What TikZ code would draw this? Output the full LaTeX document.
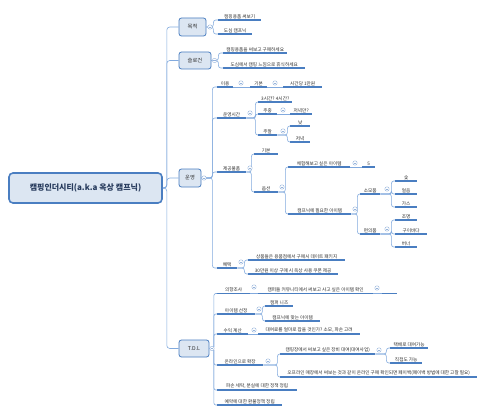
\documentclass[tikz,border=0pt]{standalone}
\usepackage{fontspec}
\setmainfont{Noto Sans CJK KR}
\usetikzlibrary{calc}
\definecolor{ulc}{RGB}{74,126,193}
\definecolor{brc}{RGB}{130,170,222}
\definecolor{boxfill}{RGB}{220,230,242}
\definecolor{boxdraw}{RGB}{74,126,193}
\definecolor{txt}{RGB}{45,45,45}
\definecolor{roottxt}{RGB}{38,58,92}
\definecolor{ccdraw}{RGB}{150,180,220}
\newcommand\lf[5]{%
  \node[leaf,minimum width={(#3)-(#2)},anchor=south west] (#1) at (#2,#4) {#5};
  \draw[ul] (#1.south west) -- (#1.south east);}
\newcommand\cc[3]{\node[cc] (#1) at (#2,#3) {};}
\newcommand\br[3]{\draw[br] (#1.south east) -- ++(#3,0) |- (#2.south west);}
\newcommand\bx[3]{\draw[br] (#1.east) -- ++(#3,0) |- (#2.south west);}
\begin{document}
\begin{tikzpicture}[x=1pt,y=-1pt,
  leaf/.style={inner xsep=0pt, inner ysep=1.2pt, font=\fontsize{4.65}{5}\selectfont, text=txt, align=center},
  ul/.style={draw=ulc, line width=1.2pt},
  br/.style={draw=brc, line width=0.6pt, rounded corners=2.5pt},
  cc/.style={circle, draw=ccdraw, fill=white, line width=0.4pt, minimum size=4.4pt, inner sep=0pt,
    path picture={\draw[ccdraw,line width=0.4pt] ([xshift=-1.2pt]path picture bounding box.center) -- ([xshift=1.2pt]path picture bounding box.center);}},
  topbox/.style={draw=boxdraw, fill=boxfill, rounded corners=2.5pt, line width=0.8pt, font=\fontsize{5.3}{6}\selectfont, text=txt, inner sep=0pt},
  rootbox/.style={draw=boxdraw, fill=boxfill, rounded corners=4pt, line width=1.6pt, font=\bfseries\fontsize{8}{9}\selectfont, text=roottxt, inner sep=0pt, minimum width=153, minimum height=30}]
\useasboundingbox (0,0) rectangle (486,414);
\fill[white] (0,0) rectangle (486,414);
% root and main branches
\node[rootbox] (root) at (85.5,188) {캠핑인더시티(a.k.a 옥상 캠프닉)};
\node[topbox, minimum width=27, minimum height=18] (mok) at (192.5,27) {목적};
\node[topbox, minimum width=32, minimum height=17] (slo) at (195,60.5) {슬로건};
\node[topbox, minimum width=22, minimum height=18] (un) at (190,178) {운영};
\node[topbox, minimum width=30, minimum height=17] (tdl) at (194,348.5) {T.D.L};
\draw[br,rounded corners=3pt] (root.east) -- ++(4,0) |- (mok.west);
\draw[br,rounded corners=3pt] (root.east) -- ++(4,0) |- (slo.west);
\draw[br,rounded corners=3pt] (root.east) -- ++(4,0) |- (un.west);
\draw[br,rounded corners=3pt] (root.east) -- ++(4,0) |- (tdl.west);
% 목적
\lf{m1}{218}{261}{20}{캠핑용품 써보기}
\lf{m2}{218}{252}{34}{도심 캠프닉}
\bx{mok}{m1}{7} \bx{mok}{m2}{7}
% 슬로건
\lf{s1}{223}{287}{53}{캠핑용품을 써보고 구매하세요}
\lf{s2}{223}{305}{68}{도심에서 캠핑 느낌으로 휴식하세요}
\bx{slo}{s1}{7} \bx{slo}{s2}{7}
% 운영
\lf{u1}{217}{233}{87}{이용}
\lf{u1a}{250}{267}{87}{기본}
\lf{u1b}{283}{322}{87}{시간당 1만원}
\lf{u2}{217}{246}{118}{운영시간}
\lf{u2a}{258}{292}{102}{3시간? 4시간?}
\lf{u2b}{258}{277}{114}{주중}
\lf{u2b1}{290}{312}{114}{저녁만?}
\lf{u2c}{258}{277}{135}{주말}
\lf{u2c1}{290}{310}{126}{낮}
\lf{u2c2}{290}{310}{142}{저녁}
\lf{u3}{217}{246}{172}{제공물품}
\lf{u3a}{254}{278}{154}{기본}
\lf{u3b}{254}{278}{192}{옵션}
\lf{o1}{288}{350}{167}{체험해보고 싶은 아이템}
\lf{o1a}{362}{375}{167}{5}
\lf{o2}{288}{351}{214}{캠프닉에 필요한 아이템}
\lf{p1}{360}{380}{194}{소모품}
\lf{p11}{395}{417}{181}{숯}
\lf{p12}{395}{417}{194}{얼음}
\lf{p13}{395}{417}{207}{가스}
\lf{p2}{360}{380}{234}{편의품}
\lf{p21}{395}{417}{220}{조명}
\lf{p22}{395}{427}{234}{구이바다}
\lf{p23}{395}{417}{247}{버너}
\lf{u4}{217}{237}{268}{혜택}
\lf{b1}{248}{345}{260}{상품들은 용품점에서 구매시 데이트 패키지}
\lf{b2}{248}{338}{274}{30만원 이상 구매 시 옥상 사용 쿠폰 제공}
\bx{un}{u1}{11} \bx{un}{u2}{11} \bx{un}{u3}{11} \bx{un}{u4}{11}
\draw[br] (u1.south east) -- (u1a.south west);
\draw[br] (u1a.south east) -- (u1b.south west);
\br{u2}{u2a}{9} \br{u2}{u2b}{9} \br{u2}{u2c}{9}
\draw[br] (u2b.south east) -- (u2b1.south west);
\br{u2c}{u2c1}{10} \br{u2c}{u2c2}{10}
\br{u3}{u3a}{5} \br{u3}{u3b}{5}
\br{u3b}{o1}{7} \br{u3b}{o2}{7}
\draw[br] (o1.south east) -- (o1a.south west);
\br{o2}{p1}{6} \br{o2}{p2}{6}
\br{p1}{p11}{11} \br{p1}{p12}{11} \br{p1}{p13}{11}
\br{p2}{p21}{11} \br{p2}{p22}{11} \br{p2}{p23}{11}
\br{u4}{b1}{7} \br{u4}{b2}{7}
% T.D.L
\lf{t1}{217}{250}{293.5}{의향조사}
\lf{t1a}{258}{373}{293.5}{캠퍼들 커뮤니티에서 써보고 사고 싶은 아이템 확인}
\lf{t1b}{382}{397}{293.5}{}
\lf{t2}{217}{255}{314}{아이템 선정}
\lf{t2a}{265}{293}{306}{캠퍼 니즈}
\lf{t2b}{265}{320}{321}{캠프닉에 맞는 아이템}
\lf{t3}{217}{248}{334}{수익 계산}
\lf{t3a}{258}{360}{334}{대여료를 얼마로 잡을 것인가? 소모, 파손 고려}
\lf{t4}{217}{263}{365}{온라인으로 확장}
\lf{t4a}{280}{375}{354}{캠핑장에서 써보고 싶은 장비 대여(대여사업)}
\lf{t4a1}{390}{428}{348}{택배로 대여가능}
\lf{t4a2}{390}{422}{363}{직접도 가능}
\lf{t4b}{280}{477}{377}{오프라인 매장에서 써보는 것과 같이 온라인 구매 확인되면 페이백(페이백 방법에 대한 고찰 필요)}
\lf{t5}{217}{297}{390}{파손 세탁, 분실에 대한 정책 정립}
\lf{t6}{217}{282}{405}{예약에 대한 환불정책 정립}
\draw[br,rounded corners=2pt] (tdl.east) -- ++(4.5,0) |- (t1.south west);
\draw[br,rounded corners=2pt] (tdl.east) -- ++(4.5,0) |- (t2.south west);
\draw[br,rounded corners=2pt] (tdl.east) -- ++(4.5,0) |- (t3.south west);
\draw[br,rounded corners=2pt] (tdl.east) -- ++(4.5,0) |- (t4.south west);
\draw[br,rounded corners=2pt] (tdl.east) -- ++(4.5,0) |- (t5.south west);
\draw[br,rounded corners=2pt] (tdl.east) -- ++(4.5,0) |- (t6.south west);
\draw[br] (t1.south east) -- (t1a.south west);
\draw[br] (t1a.south east) -- (t1b.south west);
\br{t2}{t2a}{7} \br{t2}{t2b}{7}
\draw[br] (t3.south east) -- (t3a.south west);
\br{t4}{t4a}{14} \br{t4}{t4b}{14}
\br{t4a}{t4a1}{11} \br{t4a}{t4a2}{11}
% collapse circles
\cc{c1}{210}{27} \cc{c2}{214.5}{60.5} \cc{c3}{204}{178} \cc{c4}{212}{348.5}
\cc{c5}{241}{83} \cc{c6}{275}{83} \cc{c7}{250}{113} \cc{c8}{283}{110} \cc{c9}{283}{131}
\cc{c10}{250}{168} \cc{c11}{282}{187} \cc{c12}{355}{163} \cc{c13}{355}{209}
\cc{c14}{387}{189} \cc{c15}{387}{229} \cc{c16}{241}{262}
\cc{c17}{254}{287} \cc{c18}{377}{288} \cc{c19}{259}{309} \cc{c20}{254}{330}
\cc{c21}{268}{361} \cc{c22}{379}{350}
\end{tikzpicture}
\end{document}
